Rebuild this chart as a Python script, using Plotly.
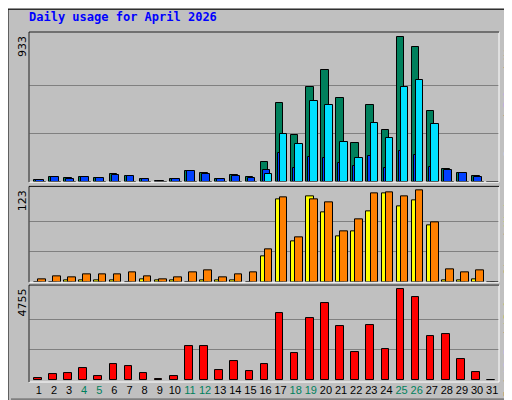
import plotly.graph_objects as go

days = list(range(1, 32))
weekend = [4, 5, 11, 12, 18, 19, 25, 26]
hits = [15,36,27,36,27,53,40,21,8,21,72,61,21,46,34,129,509,306,610,718,540,249,496,338,933,870,458,84,61,42,0]
files = [15,36,19,36,25,49,40,19,8,19,72,53,19,40,27,78,188,91,162,156,124,106,169,91,201,175,99,78,61,34,0]
pages = [4,4,4,4,4,4,4,4,4,4,4,4,4,4,4,53,312,245,522,498,255,154,382,281,612,656,376,4,4,4,0]
visits = [0,0,3,2,2,3,0,4,2,2,0,3,2,3,0,35,112,55,116,94,62,69,95,120,102,110,76,3,3,4,0]
sites = [4,8,7,10,11,11,13,8,4,6,13,16,6,11,13,44,114,60,112,107,68,85,119,121,115,123,80,18,13,16,0]
kbytes = [121,329,381,642,225,850,746,381,69,225,1788,1788,538,1006,486,850,3505,1423,3245,4026,2828,1475,2880,1631,4755,4338,2307,2411,1110,434,0]
tick_labels = [f'<span style="color:#00805C">{d}</span>' if d in weekend else str(d) for d in days]

W = 0.5
fig = go.Figure()
def bar(x, y, color, axis, off):
    fig.add_trace(go.Bar(x=[d + off for d in x], y=y, width=W, marker=dict(color=color, line=dict(color="black", width=1)),
                         xaxis="x" + axis, yaxis="y" + axis, showlegend=False, hoverinfo="skip"))
bar(days, hits, "#00805C", "", -0.07)
bar(days, files, "#0040FF", "", 0.06)
bar(days, pages, "#00E0FF", "", 0.2)
bar(days, visits, "#FFFF00", "2", -0.07)
bar(days, sites, "#FF8000", "2", 0.2)
bar(days, kbytes, "#FF0000", "3", -0.07)

grid = dict(showgrid=True, gridcolor="#808080", gridwidth=1, zeroline=False, showticklabels=False, ticks="", fixedrange=True)
xa = dict(range=[0.35, 31.45], showgrid=False, zeroline=False, showline=False)
fig.update_layout(
    width=512, height=400, margin=dict(l=21, r=21, t=24, b=22),
    paper_bgcolor="#C0C0C0", plot_bgcolor="#C0C0C0", barmode="overlay",
    font=dict(family="DejaVu Sans Mono", size=11, color="black"),
    xaxis=dict(**xa, anchor="y", showticklabels=False),
    xaxis2=dict(**xa, anchor="y2", showticklabels=False, matches="x"),
    xaxis3=dict(**xa, anchor="y3", matches="x", tickmode="array", tickvals=days, ticktext=tick_labels,
                tickangle=0, tickfont=dict(family="Liberation Sans", size=11, color="black"), ticks=""),
    yaxis=dict(**grid, domain=[0.571, 1.0], range=[0, 965], tickvals=[311, 622]),
    yaxis2=dict(**grid, domain=[0.285, 0.559], range=[0, 129], tickvals=[41, 82]),
    yaxis3=dict(**grid, domain=[0, 0.277], range=[-104, 4978], tickvals=[1585, 3170]),
    bargap=0,
)
shapes = []
for y0, y1 in [(0.571, 1.0), (0.285, 0.559), (0, 0.277)]:
    shapes.append(dict(type="rect", xref="paper", yref="paper", x0=0, x1=1, y0=y0, y1=y1, line=dict(color="white", width=1), layer="above"))
    shapes.append(dict(type="line", xref="paper", yref="paper", x0=0, x1=0, y0=y0, y1=y1, line=dict(color="black", width=1), layer="above"))
    shapes.append(dict(type="line", xref="paper", yref="paper", x0=0, x1=1, y0=y1, y1=y1, line=dict(color="black", width=1), layer="above"))
shapes.append(dict(type="rect", xref="paper", yref="paper", x0=-21/470, x1=1+20/470, y0=-21/354, y1=1+23/354, line=dict(color="black", width=1)))
shapes.append(dict(type="line", xref="paper", yref="paper", x0=-18/470, x1=1+18/470, y0=-18/354, y1=-18/354, line=dict(color="#808080", width=3)))
shapes.append(dict(type="line", xref="paper", yref="paper", x0=1+18/470, x1=1+18/470, y0=-18/354, y1=1+21/354, line=dict(color="#808080", width=3)))
fig.update_layout(shapes=shapes)

ann = [
    dict(text="<b>Daily usage for April 2026</b>", x=-2/470, y=1+15/354, xanchor="left", yanchor="middle",
         font=dict(family="DejaVu Sans Mono", size=12, color="#0000FF")),
    dict(text="933", x=-15/470, y=1.0 - 2/354, textangle=-90, xanchor="left", yanchor="top", font=dict(family="DejaVu Sans", size=11)),
    dict(text="123", x=-15/470, y=0.559 - 2/354, textangle=-90, xanchor="left", yanchor="top", font=dict(family="DejaVu Sans", size=11)),
    dict(text="4755", x=-15/470, y=0.277 - 2/354, textangle=-90, xanchor="left", yanchor="top", font=dict(family="DejaVu Sans", size=11)),
    dict(text='<span style="color:#00E0FF">Pages</span> / <span style="color:#0040FF">Files</span> / <span style="color:#00805C">Hits</span>',
         x=1+2/470, y=1.0 - 2/354, textangle=-90, xanchor="left", yanchor="top", font=dict(size=10, color="black")),
    dict(text='<span style="color:#FF8000">Sites</span> / <span style="color:#FFFF00">Visits</span>',
         x=1+2/470, y=0.559 - 2/354, textangle=-90, xanchor="left", yanchor="top", font=dict(size=10, color="black")),
    dict(text='<span style="color:#FF0000">kB F</span> / <span style="color:#3399FF">kB In</span> / <span style="color:#00C000">kB Out</span>',
         x=1+2/470, y=0.277 - 2/354, textangle=-90, xanchor="left", yanchor="top", font=dict(size=10, color="black")),
]
for a in ann:
    a.update(xref="paper", yref="paper", showarrow=False)
fig.update_layout(annotations=ann)
fig.write_html("out.html")
